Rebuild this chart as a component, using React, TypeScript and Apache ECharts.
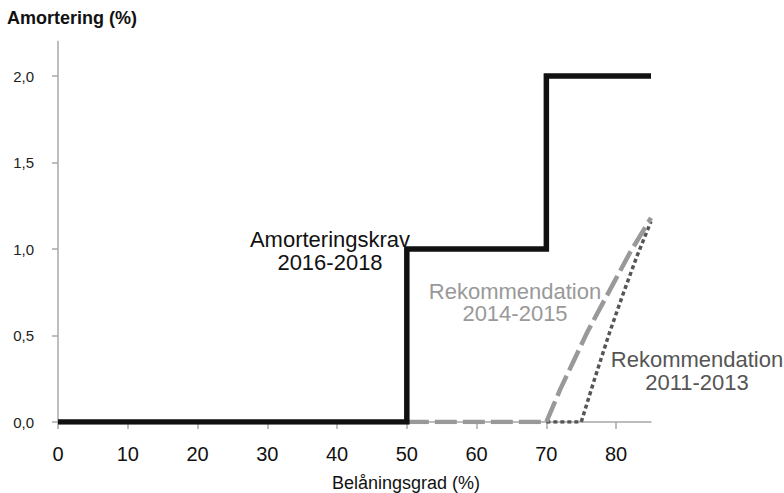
import React, { useEffect, useRef } from "react";
import * as echarts from "echarts";

const xTicks = [0, 10, 20, 30, 40, 50, 60, 70, 80];
const yTicks = [0, 0.5, 1.0, 1.5, 2.0];

const krav2016: [number, number][] = [
  [0, 0], [50, 0], [50, 1], [70, 1], [70, 2], [85, 2],
];
const rek2014: [number, number][] = [
  [50, 0], [70, 0], [72, 0.19], [74, 0.36], [76, 0.53], [78, 0.68], [80, 0.83], [82, 0.98], [85, 1.18],
];
const rek2011: [number, number][] = [
  [70, 0], [75, 0], [77, 0.26], [79, 0.51], [81, 0.74], [83, 0.96], [85, 1.16],
];

const kravLines = ["Amorteringskrav", "2016-2018"];
const rek2014Lines = ["Rekommendation", "2014-2015"];
const rek2011Lines = ["Rekommendation", "2011-2013"];
const titleText = "Amortering (%)";
const xNameText = "Belåningsgrad (%)";

const FONT = "'Liberation Sans', Arial, Helvetica, sans-serif";

function lineText(text: string, x: number, y: number, fill: string) {
  return {
    type: "text",
    x,
    y,
    style: { text, font: `22px ${FONT}`, fill, textAlign: "center", textVerticalAlign: "top", lineHeight: 21 },
  };
}

export default function App() {
  const ref = useRef<HTMLDivElement>(null);
  useEffect(() => {
    if (!ref.current) return;
    const chart = echarts.init(ref.current, null, { renderer: "svg" });
    chart.setOption({
      animation: false,
      backgroundColor: "#ffffff",
      textStyle: { fontFamily: FONT },
      grid: { left: 58, right: 133, top: 41.4, bottom: 71, containLabel: false },
      xAxis: {
        type: "value",
        min: 0,
        max: 85,
        interval: 10,
        offset: 11,
        axisLine: { show: true, lineStyle: { color: "#a8a8a8", width: 1.5 } },
        axisTick: { show: true, length: 7, customValues: xTicks, lineStyle: { color: "#a8a8a8", width: 1.5 } },
        axisLabel: { customValues: xTicks, fontSize: 20, color: "#111", margin: 11, fontFamily: FONT },
        splitLine: { show: false },
      },
      yAxis: {
        type: "value",
        min: 0,
        max: 2.2,
        interval: 0.5,
        offset: 12,
        axisLine: { show: true, lineStyle: { color: "#a8a8a8", width: 1.5 } },
        axisTick: { show: true, length: 6, customValues: yTicks, lineStyle: { color: "#a8a8a8", width: 1.5 } },
        axisLabel: {
          customValues: yTicks,
          fontSize: 15,
          color: "#222",
          margin: 12,
          fontFamily: FONT,
          formatter: (v: number) => v.toFixed(1).replace(".", ","),
        },
        splitLine: { show: false },
      },
      series: [
        {
          type: "line",
          data: [],
          z: 1,
          silent: true,
          clip: false,
          markLine: {
            silent: true,
            symbol: ["none", "none"],
            label: { show: false },
            lineStyle: { color: "#c4c4c4", width: 1, type: [1, 3] },
            data: xTicks.map((x) => [{ coord: [x, -0.035] }, { coord: [x, 2.266] }]),
          },
        },
        {
          type: "line",
          data: rek2011,
          z: 2,
          showSymbol: false,
          symbol: "none",
          lineStyle: { color: "#555555", width: 3.5, type: [4, 3], cap: "butt" },
        },
        {
          type: "line",
          data: rek2014,
          z: 3,
          showSymbol: false,
          symbol: "none",
          lineStyle: { color: "#999999", width: 4.5, type: [22, 6], cap: "butt" },
        },
        {
          type: "line",
          data: krav2016,
          z: 4,
          showSymbol: false,
          symbol: "none",
          lineStyle: { color: "#111111", width: 5.5, join: "miter" },
        },
      ],
      graphic: [
        {
          type: "text",
          x: 7,
          y: 8.7,
          style: { text: titleText, font: `bold 18px ${FONT}`, fill: "#111", textVerticalAlign: "top", lineHeight: 18 },
        },
        {
          type: "text",
          x: 406,
          y: 473.7,
          style: { text: xNameText, font: `18px ${FONT}`, fill: "#111", textAlign: "center", textVerticalAlign: "top", lineHeight: 18 },
        },
        lineText(kravLines[0], 330, 229, "#111"),
        lineText(kravLines[1], 330, 251.8, "#111"),
        lineText(rek2014Lines[0], 515, 280.6, "#999"),
        lineText(rek2014Lines[1], 515, 303.4, "#999"),
        lineText(rek2011Lines[0], 697, 349.2, "#555"),
        lineText(rek2011Lines[1], 697, 372, "#555"),
      ],
    });
    return () => chart.dispose();
  }, []);
  return <div ref={ref} style={{ width: 784, height: 493, position: "absolute", left: 0, top: 0 }} />;
}
